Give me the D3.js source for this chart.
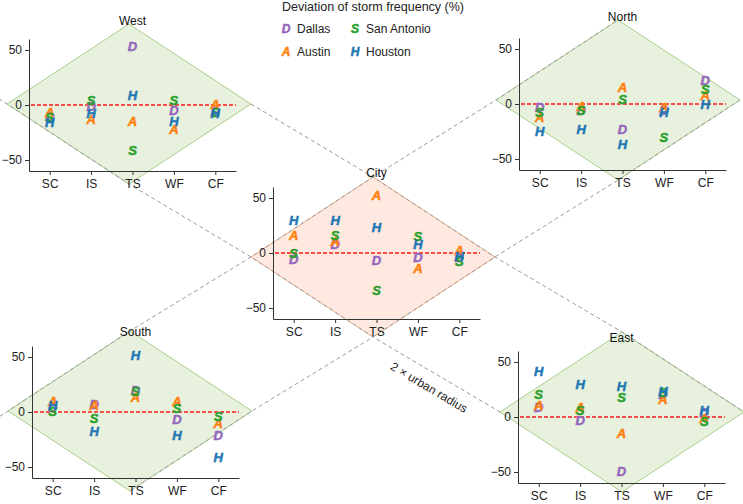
<!DOCTYPE html>
<html>
<head>
<meta charset="utf-8">
<script src="https://cdn.jsdelivr.net/npm/d3@7"></script>
<style>
  body { margin: 0; background: #fff; }
  svg text { font-family: "Liberation Sans", Arial, sans-serif; }
  .axis path, .axis line { stroke: #333; }
  .axis text { font-size: 12px; fill: #222; }
  .mark { font-weight: bold; font-style: italic; stroke-width: 0.5px; }
</style>
</head>
<body>
<div id="canvas"></div>
<script>
// data
var categories = ["SC", "IS", "TS", "WF", "CF"];
var cities = ["Dallas", "Austin", "San Antonio", "Houston"];
var letters = ["D", "A", "S", "H"];
var colors = ["#9467bd", "#ff7f0e", "#2ca02c", "#1f77b4"];
var regions = ["West", "North", "City", "South", "East"];
var yTicks = [-50, 0, 50];

// rows follow cities order: Dallas, Austin, San Antonio, Houston
var westValues = [
  [-10, -1, 53, -5, -6],
  [-7, -13, -15, -22, 1],
  [-11, 4.5, -41, 4, -7],
  [-16, -8, 9, -15, -8]
];
var northValues = [
  [-3, -6, -23, -6, 21.5],
  [-12, -2, 15, -3, 8],
  [-8, -6, 4, -30, 13],
  [-25, -23, -37, -8, 0]
];
var cityValues = [
  [-6, 8, -7, -4, -4],
  [16, 11, 52, -14, 2],
  [0, 16, -34, 15, -8],
  [29.5, 30, 23.5, 7.5, -3]
];
var southValues = [
  [4.5, 7, 19.5, -7, -21],
  [10, 6, 13.5, 10, -10],
  [0.5, -5.5, 19, 3.5, -4],
  [6.5, -18, 51.5, -21, -41]
];
var eastValues = [
  [8.5, -3, -49, 20.5, 4.5],
  [10.5, 8.5, -15, 16, -1.5],
  [20.5, 6.5, 18, 22, -4],
  [41.5, 30, 28, 23.5, 6]
];

var valuesByRegion = {
  West: westValues, North: northValues, City: cityValues,
  South: southValues, East: eastValues
};

// layout (pixels)
var width = 743, height = 504;
var axW = 207, halfH = 66;
var layout = {
  West:  {x0: 29,  zero: 105, titleY: 25,  cx: 129, cy: 104},
  North: {x0: 519, zero: 104, titleY: 21,  cx: 618, cy: 100},
  City:  {x0: 273, zero: 253, titleY: 177, cx: 373, cy: 257},
  South: {x0: 32,  zero: 412, titleY: 336, cx: 130, cy: 411},
  East:  {x0: 518, zero: 417, titleY: 342, cx: 622, cy: 412}
};
var da = 122, db = 80;

var svg = d3.select("#canvas")
  .append("svg")
  .attr("width", width)
  .attr("height", height);

function vtx(r, k) {
  var c = layout[r];
  if (k === "l") return [c.cx - da, c.cy];
  if (k === "r") return [c.cx + da, c.cy];
  if (k === "t") return [c.cx, c.cy - db];
  return [c.cx, c.cy + db];
}

// diamonds
regions.forEach(function (r) {
  var isCity = r === "City";
  svg.append("polygon")
    .attr("points", ["l", "t", "r", "b"].map(function (k) { return vtx(r, k).join(","); }).join(" "))
    .attr("fill", isCity ? "#fde9df" : "#e7f1de")
    .attr("stroke", isCity ? "#f2b48c" : "#a8d08d")
    .attr("stroke-width", 1);
});

// dashed guide lines
function ext(p, q, d) {
  var dx = p[0] - q[0], dy = p[1] - q[1], n = Math.sqrt(dx * dx + dy * dy);
  return [p[0] + dx / n * d, p[1] + dy / n * d];
}
var guides = [
  [ext(vtx("West", "l"), vtx("West", "b"), 10), vtx("West", "l"), vtx("West", "b"), vtx("City", "l"), vtx("City", "b"), vtx("East", "l")],
  [vtx("West", "r"), vtx("City", "t"), vtx("City", "r"), vtx("East", "t"), vtx("East", "r"), ext(vtx("East", "r"), vtx("East", "t"), 8)],
  [ext(vtx("South", "l"), vtx("South", "t"), 10), vtx("South", "l"), vtx("South", "t"), vtx("City", "l"), vtx("City", "t"), vtx("North", "l"), vtx("North", "t")],
  [vtx("South", "b"), vtx("South", "r"), vtx("City", "b"), vtx("City", "r"), vtx("North", "b"), vtx("North", "r")]
];
var line = d3.line();
svg.selectAll(".guide")
  .data(guides)
  .enter()
  .append("path")
  .attr("class", "guide")
  .attr("d", line)
  .attr("fill", "none")
  .attr("stroke", "#9a9a9a")
  .attr("stroke-width", 1)
  .attr("stroke-dasharray", "4,3");

// label on the City -> East guide
var p1 = vtx("City", "b"), p2 = vtx("East", "l");
var ang = Math.atan2(p2[1] - p1[1], p2[0] - p1[0]) * 180 / Math.PI;
svg.append("text")
  .attr("transform", "translate(427,391) rotate(" + ang + ")")
  .attr("text-anchor", "middle")
  .attr("font-size", "12px")
  .attr("fill", "#222")
  .text("2 × urban radius");

// panels
regions.forEach(function (r) {
  var c = layout[r];
  var g = svg.append("g");

  var x = d3.scalePoint()
    .domain(categories)
    .range([c.x0, c.x0 + axW])
    .padding(0.5);

  var y = d3.scaleLinear()
    .domain([-60, 60])
    .range([c.zero + halfH, c.zero - halfH]);

  g.append("g")
    .attr("class", "axis")
    .attr("transform", "translate(0," + (c.zero + halfH) + ")")
    .call(d3.axisBottom(x).tickSize(4).tickPadding(4).tickSizeOuter(0));

  g.append("g")
    .attr("class", "axis")
    .attr("transform", "translate(" + c.x0 + ",0)")
    .call(d3.axisLeft(y).tickValues(yTicks).tickSize(4).tickPadding(3).tickSizeOuter(0));

  g.append("line")
    .attr("x1", c.x0 + 2)
    .attr("x2", c.x0 + axW)
    .attr("y1", y(0))
    .attr("y2", y(0))
    .attr("stroke", "#ff1a1a")
    .attr("stroke-width", 1.6)
    .attr("stroke-dasharray", "4,2");

  var vals = valuesByRegion[r];
  vals.forEach(function (row, i) {
    g.selectAll(".m" + i)
      .data(row)
      .enter()
      .append("text")
      .attr("class", "mark m" + i)
      .attr("x", function (d, j) { return x(categories[j]); })
      .attr("y", function (d) { return y(d); })
      .attr("dy", "0.36em")
      .attr("text-anchor", "middle")
      .attr("font-size", "13px")
      .attr("fill", colors[i])
      .attr("stroke", colors[i])
      .text(letters[i]);
  });

  g.append("text")
    .attr("x", c.x0 + axW / 2)
    .attr("y", c.titleY)
    .attr("text-anchor", "middle")
    .attr("font-size", "12px")
    .attr("fill", "#111")
    .text(r);
});

// legend
var legend = svg.append("g");
legend.append("text")
  .attr("x", 282)
  .attr("y", 11)
  .attr("font-size", "12.5px")
  .attr("fill", "#222")
  .text("Deviation of storm frequency (%)");

var legendPos = [[286, 29], [286, 52], [355, 29], [355, 52]];
cities.forEach(function (name, i) {
  var item = legend.append("g")
    .attr("transform", "translate(" + legendPos[i][0] + "," + legendPos[i][1] + ")");
  item.append("text")
    .attr("class", "mark")
    .attr("dy", "0.36em")
    .attr("text-anchor", "middle")
    .attr("font-size", "12px")
    .attr("fill", colors[i])
    .attr("stroke", colors[i])
    .text(letters[i]);
  item.append("text")
    .attr("x", 11)
    .attr("dy", "0.36em")
    .attr("font-size", "12px")
    .attr("fill", "#222")
    .text(name);
});
</script>
</body>
</html>
